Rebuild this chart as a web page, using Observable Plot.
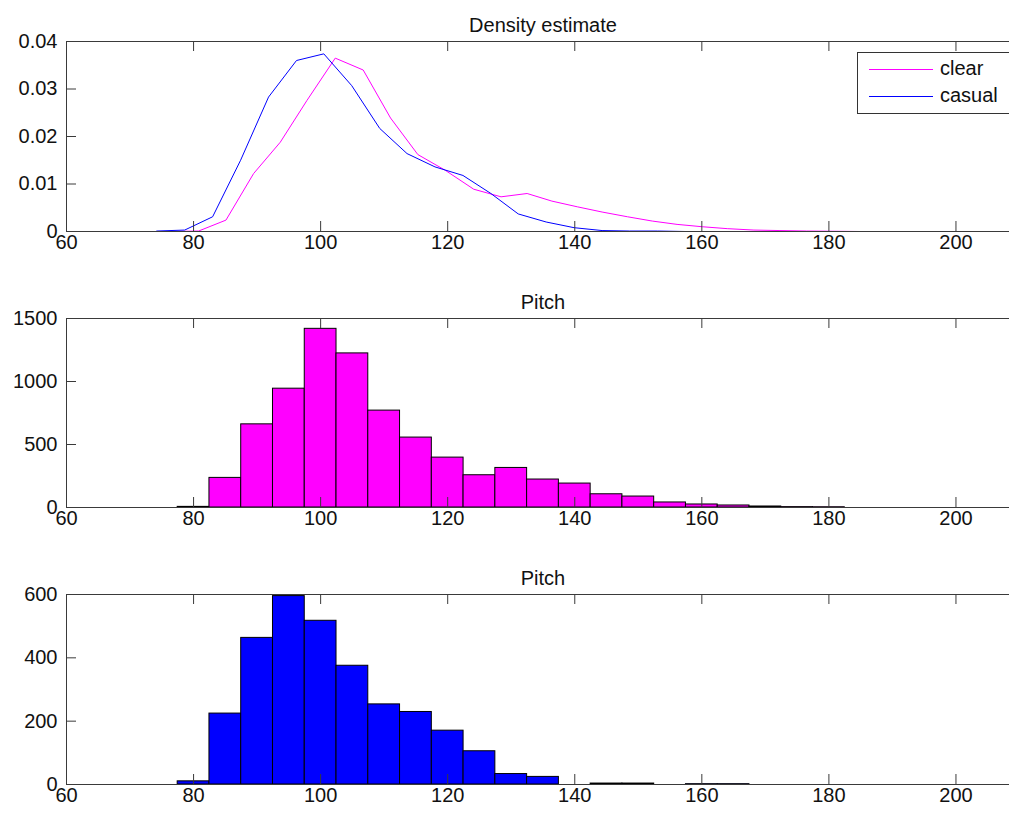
<!DOCTYPE html>
<html>
<head>
<meta charset="utf-8">
<script src="https://cdn.jsdelivr.net/npm/d3@7"></script>
<script src="https://cdn.jsdelivr.net/npm/@observablehq/plot@0.6"></script>
<style>
  html, body { margin: 0; padding: 0; background: #fff; }
  body { width: 1009px; height: 814px; overflow: hidden; position: relative; font-family: "Liberation Sans", Arial, sans-serif; }
  .panel { position: absolute; left: 0; width: 1019px; }
  .panel svg { max-width: none !important; display: block; }
  #legend { position: absolute; left: 857px; top: 52px; width: 200px; height: 60px; border: 1px solid #333; background: #fff; }
  #legend .item { position: absolute; left: 11px; height: 20px; font-size: 20px; color: #111; }
  #legend .item span.sw { position: absolute; left: 0; top: 10px; width: 64px; height: 0; border-top: 1px solid; }
  #legend .item span.lab { position: absolute; left: 71px; top: -3px; white-space: nowrap; line-height: 24px; }
</style>
</head>
<body>
<div id="p1" class="panel" style="top:0px"></div>
<div id="p2" class="panel" style="top:277px"></div>
<div id="p3" class="panel" style="top:553px"></div>
<div id="legend"></div>
<script>
// ---- data ----
const xTicks = [60, 80, 100, 120, 140, 160, 180, 200];
const densityTicks = [0, 0.01, 0.02, 0.03, 0.04];
const clearTicks = [0, 500, 1000, 1500];
const casualTicks = [0, 200, 400, 600];

const seriesNames = ["clear", "casual"];
const seriesColors = ["#ff00ff", "#0000ff"];

// density estimate – clear
const clearX = [76.6, 80.8, 85.1, 89.45, 93.65, 97.85, 102.3, 106.7, 111.0, 115.3, 119.6, 124.1, 128.4, 132.5, 136.4, 140.4, 144.3, 148.3, 152.2, 156.1, 160.1, 164.0, 168.2, 172.3, 176.5, 180.6, 184.8, 189.0, 193.1, 197.2, 201.3, 205.5, 209.6];
const clearY = [0, 0.0001, 0.0024, 0.0122, 0.0188, 0.0276, 0.0365, 0.0340, 0.0239, 0.0162, 0.0129, 0.0089, 0.0073, 0.0080, 0.0064, 0.0052, 0.0041, 0.0031, 0.0022, 0.0015, 0.0010, 0.0006, 0.0003, 0.0002, 0.0001, 0.00005, 0, 0, 0, 0, 0, 0, 0];
// density estimate – casual
const casualX = [74.2, 78.6, 83.0, 87.4, 91.8, 96.2, 100.5, 104.9, 109.3, 113.6, 118.0, 122.4, 126.8, 131.1, 135.5, 139.9, 144.3, 148.6, 153.0, 157.4, 161.7, 166.1, 170.5, 174.9, 179.2, 183.6, 188.0, 192.3, 196.7, 201.1, 205.5, 209.8];
const casualY = [0.0001, 0.0003, 0.0031, 0.0150, 0.0283, 0.0360, 0.0374, 0.0307, 0.0217, 0.0164, 0.0136, 0.0118, 0.0080, 0.0037, 0.0020, 0.0008, 0.0002, 0.0001, 0.0001, 0, 0, 0, 0, 0, 0, 0, 0, 0, 0, 0, 0, 0];

// histograms (bin centres, width 5)
const binCenters = [80, 85, 90, 95, 100, 105, 110, 115, 120, 125, 130, 135, 140, 145, 150, 155, 160, 165, 170, 175, 180];
const clearCounts = [5, 235, 660, 943, 1418, 1223, 769, 555, 396, 256, 314, 222, 190, 105, 87, 40, 24, 16, 8, 3, 2];
const casualCounts = [10, 224, 463, 595, 517, 375, 253, 229, 170, 105, 33, 24, 0, 3, 3, 0, 1, 1, 0, 0, 0];
const binWidth = 5;

// ---- drawing ----
const W = 1019, ML = 66, MT = 41, MB = 30;
const axisColor = "#3a3a3a";
const fmt = d => String(d);

function panel(el, H, yDomain, yTicks, title, dataMarks) {
  const h = H + MT + MB;
  const innerW = W - ML;
  const chart = Plot.plot({
    width: W, height: h,
    marginLeft: ML, marginRight: 0, marginTop: MT, marginBottom: MB,
    style: { fontFamily: "'Liberation Sans', Arial, sans-serif", fontSize: "20px", color: "#111", background: "transparent", overflow: "visible", maxWidth: "none" },
    x: { domain: [60, 210], label: null },
    y: { domain: yDomain, label: null },
    marks: [
      ...dataMarks,
      Plot.frame({ stroke: axisColor, strokeWidth: 1 }),
      Plot.tickX(xTicks, { x: d => d, insetTop: H - 10, stroke: axisColor }),
      Plot.tickX(xTicks, { x: d => d, insetBottom: H - 10, stroke: axisColor }),
      Plot.tickY(yTicks, { y: d => d, insetRight: innerW - 10, stroke: axisColor }),
      Plot.axisX({ ticks: xTicks, tickSize: 0, tickPadding: 3, tickFormat: fmt, fill: "#111", label: null }),
      Plot.axisY({ ticks: yTicks, tickSize: 0, tickPadding: 9, tickFormat: fmt, fill: "#111", label: null }),
      Plot.text([title], { frameAnchor: "top", dy: -24, text: d => d, fontSize: 20, fill: "#111" })
    ]
  });
  document.getElementById(el).appendChild(chart);
}

const clearPts = clearX.map((x, i) => ({ x, y: clearY[i] }));
const casualPts = casualX.map((x, i) => ({ x, y: casualY[i] }));

panel("p1", 190, [0, 0.04], densityTicks, "Density estimate", [
  Plot.line(clearPts, { x: "x", y: "y", stroke: seriesColors[0], strokeWidth: 1 }),
  Plot.line(casualPts, { x: "x", y: "y", stroke: seriesColors[1], strokeWidth: 1 })
]);

const clearBins = binCenters.map((c, i) => ({ c, n: clearCounts[i] })).filter(d => d.n > 0);
const casualBins = binCenters.map((c, i) => ({ c, n: casualCounts[i] })).filter(d => d.n > 0);

panel("p2", 189, [0, 1500], clearTicks, "Pitch", [
  Plot.rectY(clearBins, { x1: d => d.c - binWidth / 2, x2: d => d.c + binWidth / 2, y: "n", fill: seriesColors[0], stroke: "#000", strokeWidth: 1 })
]);

panel("p3", 190, [0, 600], casualTicks, "Pitch", [
  Plot.rectY(casualBins, { x1: d => d.c - binWidth / 2, x2: d => d.c + binWidth / 2, y: "n", fill: seriesColors[1], stroke: "#000", strokeWidth: 1 })
]);

// legend
const legend = document.getElementById("legend");
seriesNames.forEach((name, i) => {
  const item = document.createElement("div");
  item.className = "item";
  item.style.top = (6 + i * 27) + "px";
  const sw = document.createElement("span");
  sw.className = "sw";
  sw.style.borderTopColor = seriesColors[i];
  const lab = document.createElement("span");
  lab.className = "lab";
  lab.textContent = name;
  item.appendChild(sw);
  item.appendChild(lab);
  legend.appendChild(item);
});
</script>
</body>
</html>
